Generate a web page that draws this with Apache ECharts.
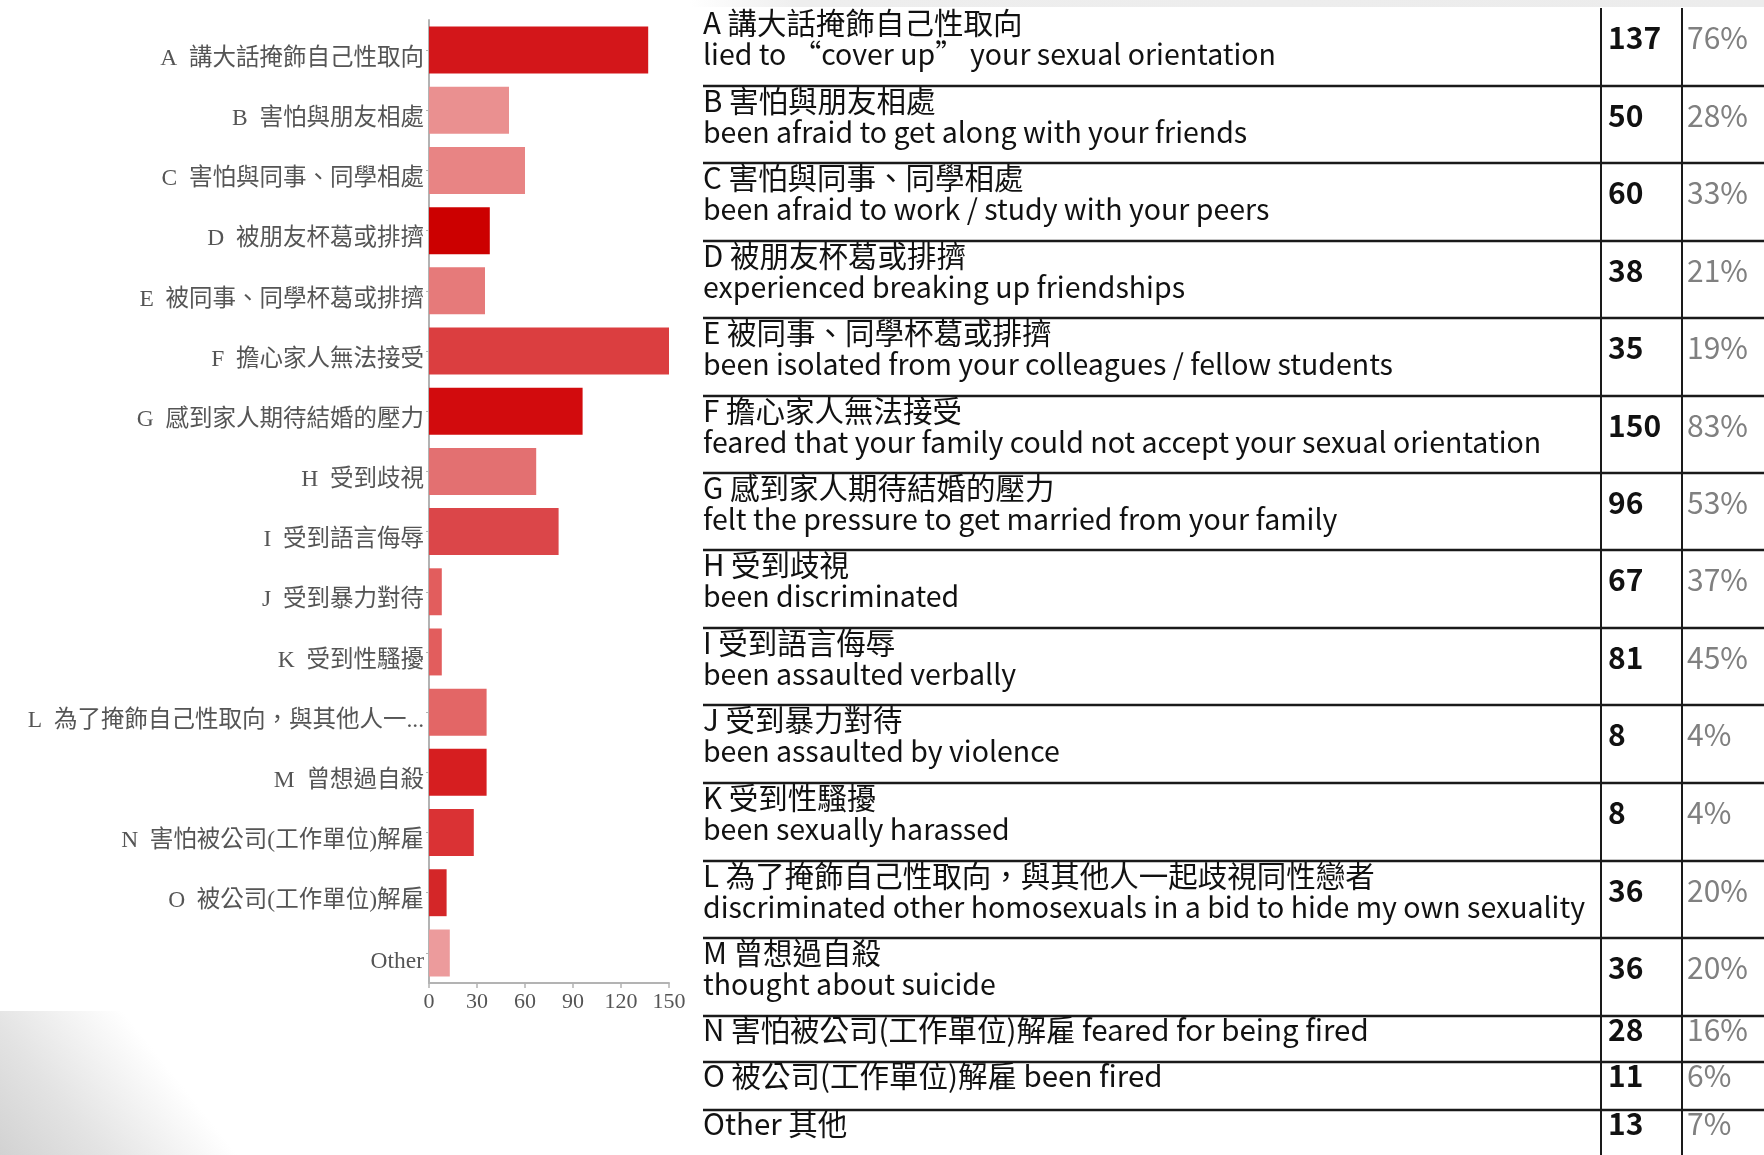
<!DOCTYPE html>
<html>
<head>
<meta charset="utf-8">
<title>困擾經歷</title>
<script src="https://cdn.jsdelivr.net/npm/echarts@6/dist/echarts.min.js"></script>
<style>
  html, body { margin: 0; padding: 0; background: #fff; }
  #main { width: 1764px; height: 1155px; }
</style>
</head>
<body>
<div id="main"></div>
<script>
// data
const categories = [
  'A  講大話掩飾自己性取向', 'B  害怕與朋友相處', 'C  害怕與同事、同學相處', 'D  被朋友杯葛或排擠',
  'E  被同事、同學杯葛或排擠', 'F  擔心家人無法接受', 'G  感到家人期待結婚的壓力', 'H  受到歧視',
  'I  受到語言侮辱', 'J  受到暴力對待', 'K  受到性騷擾', 'L  為了掩飾自己性取向，與其他人一起歧視同性戀者',
  'M  曾想過自殺', 'N  害怕被公司(工作單位)解雇', 'O  被公司(工作單位)解雇', 'Other'
];
const counts = [137, 50, 60, 38, 35, 150, 96, 67, 81, 8, 8, 36, 36, 28, 11, 13];
const percents = ['76%', '28%', '33%', '21%', '19%', '83%', '53%', '37%', '45%', '4%', '4%', '20%', '20%', '16%', '6%', '7%'];
const barColors = [
  '#d3161a', '#ea9090', '#e88484', '#cc0000', '#e67a7a', '#db3e40', '#d20b0d', '#e37071',
  '#db4649', '#e25d5d', '#e25d5d', '#e36666', '#d61e20', '#da3234', '#d42628', '#ec9b9c'
];
const xTicks = [0, 30, 60, 90, 120, 150];

// table text
const tableZh = [
  'A 講大話掩飾自己性取向', 'B 害怕與朋友相處', 'C 害怕與同事、同學相處', 'D 被朋友杯葛或排擠',
  'E 被同事、同學杯葛或排擠', 'F 擔心家人無法接受', 'G 感到家人期待結婚的壓力', 'H 受到歧視',
  'I 受到語言侮辱', 'J 受到暴力對待', 'K 受到性騷擾', 'L 為了掩飾自己性取向，與其他人一起歧視同性戀者',
  'M 曾想過自殺', 'N 害怕被公司(工作單位)解雇 feared for being fired', 'O 被公司(工作單位)解雇 been fired', 'Other 其他'
];
const tableEn = [
  'lied to “cover up” your sexual orientation', 'been afraid to get along with your friends',
  'been afraid to work / study with your peers', 'experienced breaking up friendships',
  'been isolated from your colleagues / fellow students', 'feared that your family could not accept your sexual orientation',
  'felt the pressure to get married from your family', 'been discriminated', 'been assaulted verbally',
  'been assaulted by violence', 'been sexually harassed', 'discriminated other homosexuals in a bid to hide my own sexuality',
  'thought about suicide', '', '', ''
];

// table layout
const tableTop = 8;
const rowHeights = [78, 77, 78, 77, 78, 77, 77, 78, 77, 78, 78, 77, 78, 46, 48, 45];
const textX = 703;
const colCount = 1601;
const colPct = 1682;
const tableFont = "'Noto Sans CJK TC', 'Noto Sans', sans-serif";

const graphics = [];

// background shading, bottom left
graphics.push({
  type: 'rect', z: -10, silent: true,
  shape: { x: 0, y: 1011, width: 300, height: 144 },
  style: {
    fill: new echarts.graphic.LinearGradient(0, 1155, 250, 955, [
      { offset: 0, color: '#d2d2d2' },
      { offset: 0.25, color: '#e3e3e3' },
      { offset: 0.58, color: '#ffffff' }
    ], true)
  }
});
// faint band at the top of the table
graphics.push({
  type: 'rect', z: -10, silent: true,
  shape: { x: 690, y: 0, width: 1074, height: 7 },
  style: {
    fill: new echarts.graphic.LinearGradient(0, 0, 1, 0, [
      { offset: 0, color: '#ffffff' },
      { offset: 0.1, color: '#eeeeee' },
      { offset: 1, color: '#ececec' }
    ])
  }
});

// column lines
[colCount, colPct].forEach(x => {
  graphics.push({
    type: 'line', silent: true,
    shape: { x1: x, y1: tableTop, x2: x, y2: 1155 },
    style: { stroke: '#1a1a1a', lineWidth: 2 }
  });
});

let rowTop = tableTop;
rowHeights.forEach((h, i) => {
  const twoLines = tableEn[i] !== '';
  if (i > 0) {
    graphics.push({
      type: 'line', silent: true,
      shape: { x1: textX, y1: rowTop, x2: 1764, y2: rowTop },
      style: { stroke: '#1a1a1a', lineWidth: 2.5 }
    });
  }
  graphics.push({
    type: 'text', silent: true,
    style: {
      x: textX, y: rowTop + (twoLines ? 15 : 14), text: tableZh[i],
      font: '29.5px ' + tableFont, fill: '#111', verticalAlign: 'middle'
    }
  });
  if (twoLines) {
    graphics.push({
      type: 'text', silent: true,
      style: {
        x: textX, y: rowTop + 46, text: tableEn[i],
        font: '28.5px ' + tableFont, fill: '#111', verticalAlign: 'middle'
      }
    });
  }
  const midY = rowTop + (twoLines ? 30 : 14);
  graphics.push({
    type: 'text', silent: true,
    style: {
      x: colCount + 7, y: midY, text: String(counts[i]),
      font: 'bold 30px ' + tableFont, fill: '#111', verticalAlign: 'middle'
    }
  });
  graphics.push({
    type: 'text', silent: true,
    style: {
      x: colPct + 5, y: midY, text: percents[i],
      font: '30px ' + tableFont, fill: '#808080', verticalAlign: 'middle'
    }
  });
  rowTop += h;
});

const labelFont = "'Liberation Serif', 'Noto Sans CJK TC', serif";

const chart = echarts.init(document.getElementById('main'));
chart.setOption({
  backgroundColor: '#ffffff',
  animation: false,
  grid: { left: 429, top: 20, width: 240, height: 963, containLabel: false, outerBoundsMode: 'none' },
  xAxis: {
    type: 'value', min: xTicks[0], max: xTicks[xTicks.length - 1], interval: 30,
    axisLine: { show: true, lineStyle: { color: '#b3b3b3', width: 2 } },
    axisTick: { show: true, length: 5, lineStyle: { color: '#b3b3b3', width: 1.5 } },
    splitLine: { show: false },
    axisLabel: { color: '#555', fontSize: 22, fontFamily: labelFont, margin: 8 }
  },
  yAxis: {
    type: 'category', inverse: true, data: categories,
    axisLine: { show: true, lineStyle: { color: '#b3b3b3', width: 2 } },
    axisTick: { show: true, alignWithLabel: true, length: 3, lineStyle: { color: '#b3b3b3' } },
    axisLabel: {
      margin: 5,
      // labels sit a little below the bar centre in the original
      formatter: v => '{t|' + (v.length > 19 ? v.slice(0, 18) + '...' : v) + '}',
      rich: {
        t: {
          color: '#555', fontSize: 23.5, fontFamily: labelFont,
          verticalAlign: 'top', padding: [17, 0, 0, 0]
        }
      }
    }
  },
  series: [{
    type: 'bar',
    barCategoryGap: '22%',
    data: counts.map((v, i) => ({ value: v, itemStyle: { color: barColors[i] } }))
  }],
  graphic: graphics
});
</script>
</body>
</html>
